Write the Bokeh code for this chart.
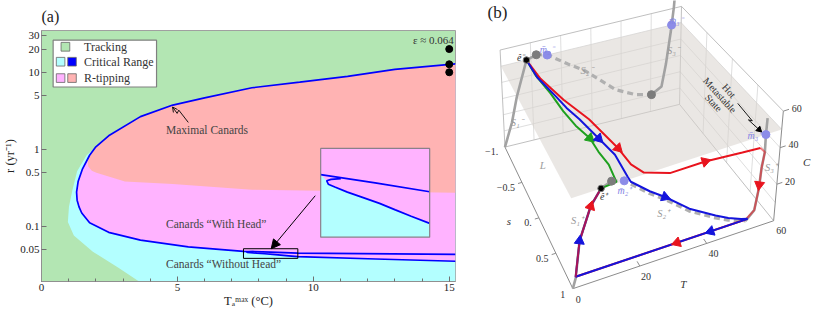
import math
from bokeh.plotting import figure
from bokeh.layouts import row, column
from bokeh.models import (Range1d, FixedTicker, Arrow, NormalHead, OpenHead,
                          LinearScale, CustomJSTickFormatter)
from bokeh.core.properties import value
from bokeh.embed import file_html
from bokeh.resources import INLINE

SERIF = "Liberation Serif"
GREEN_BG = "#b3e6b3"
CYAN = "#b3ffff"
PINK = "#ffb3ff"
SALMON = "#ffb3b3"
BLUE_LINE = "#0000ff"

# ======================= panel (a) data =======================
T_LIMITS = (0.0, 15.23)
R_LIMITS = (0.0194, 34.8)
x_tick_values = [0, 5, 10, 15]
x_minor_values = [0, 1, 2, 3, 4, 5, 6, 7, 8, 9, 10, 11, 12, 13, 14, 15]
y_tick_values = [0.05, 0.1, 0.5, 1, 5, 10, 20, 30]

canard_T = [15.23, 13.0, 11.26, 9.5, 7.74, 6.0, 4.83, 3.64, 2.47, 2.0, 1.77, 1.5, 1.35,
            1.29, 1.31, 1.38, 1.48, 1.77, 2.47, 3.64, 5.4, 7.43, 8.43, 9.43, 15.23]
canard_r = [12.85, 10.9, 8.84, 7.45, 6.3, 4.65, 3.76, 2.66, 1.5, 1.08, 0.84, 0.55, 0.387,
            0.28, 0.22, 0.18, 0.15, 0.112, 0.0841, 0.0668, 0.0546, 0.0478, 0.0466, 0.0453, 0.0437]
head_T = [7.80, 7.62, 7.54, 7.57, 7.69, 7.92, 8.21, 8.51, 8.80, 9.09, 9.43, 12.3, 15.23]
head_r = [0.0472, 0.0471, 0.0469, 0.0464, 0.0460, 0.04525, 0.04445, 0.04361, 0.04267,
          0.04174, 0.0407, 0.0380, 0.0355]
salmon_T = [1.70, 1.72, 1.85, 2.02, 3.07, 4.83, 7.74, 15.23]
salmon_r = [0.75, 0.60, 0.53, 0.50, 0.385, 0.355, 0.30, 0.275]
cyanb_T = [2.47, 1.66, 1.31, 1.13, 1.01, 0.97, 1.19, 1.89, 2.83, 3.59]
cyanb_r = [1.5, 0.84, 0.52, 0.29, 0.18, 0.115, 0.0766, 0.0473, 0.0292, 0.0194]
dots_T = [15, 15, 15]
dots_r = [20, 12.7, 10]
inset_view_T = (7.43, 9.43)
inset_view_r = (0.0387, 0.0516)
inset_box_T = (10.27, 14.28)
inset_box_r = (0.0729, 1.03)
inset_main_T = [7.43, 8.43, 9.43]
inset_main_r = [0.0478, 0.0466, 0.0453]

IDX_UPPER_END = canard_T.index(2.47)
IDX_SALMON = canard_T.index(1.77)
IDX_LOWER_END = canard_T.index(7.43)
IDX_TIP = 2
IDX_HEAD_INSET = head_T.index(9.43)

# ======================= panel (a) figure =======================
p1 = figure(width=470, height=310, x_range=Range1d(*T_LIMITS), y_range=Range1d(*R_LIMITS),
            y_axis_type="log", output_backend="svg", toolbar_location=None,
            min_border_left=8, min_border_right=15, min_border_top=22, min_border_bottom=10,
            title="(a)")
p1.title.text_font = SERIF
p1.title.text_font_size = "16px"
p1.title.text_font_style = "normal"
p1.title.text_color = "#222222"
p1.title.align = "left"
p1.title.offset = 0
p1.title.standoff = 11
p1.background_fill_color = GREEN_BG
p1.grid.grid_line_color = None
p1.outline_line_color = "#a0a0a0"

for ax in (p1.xaxis[0], p1.yaxis[0]):
    ax.axis_line_color = "#909090"
    ax.major_tick_line_color = "#707070"
    ax.minor_tick_line_color = "#707070"
    ax.major_tick_in = 5
    ax.major_tick_out = 0
    ax.minor_tick_in = 3
    ax.minor_tick_out = 0
    ax.major_label_text_font = SERIF
    ax.major_label_text_font_size = "11px"
    ax.major_label_text_color = "#222222"
    ax.axis_label_text_font = SERIF
    ax.axis_label_text_font_size = "12.5px"
    ax.axis_label_text_font_style = "normal"
    ax.axis_label_text_color = "#222222"
p1.xaxis.ticker = FixedTicker(ticks=x_tick_values, minor_ticks=x_minor_values)
p1.yaxis.ticker = FixedTicker(ticks=y_tick_values, minor_ticks=[])
p1.yaxis.formatter = CustomJSTickFormatter(code="return String(tick);")
p1.xaxis.major_label_standoff = 2
p1.xaxis.axis_label_standoff = 0
p1.yaxis.major_label_standoff = 2
p1.yaxis.axis_label_standoff = 0
p1.xaxis.axis_label = "T\u2090\u1d50\u1d43\u02e3 (\u00b0C)"
p1.yaxis.axis_label = "r (yr\u207b\u00b9)"

cyan_x = cyanb_T + [T_LIMITS[1]] + canard_T[:IDX_UPPER_END + 1]
cyan_y = cyanb_r + [R_LIMITS[0]] + canard_r[:IDX_UPPER_END + 1]
p1.patch(cyan_x, cyan_y, fill_color=CYAN, line_color=None)
pink_x = canard_T[:IDX_LOWER_END + 1] + head_T[IDX_TIP:]
pink_y = canard_r[:IDX_LOWER_END + 1] + head_r[IDX_TIP:]
p1.patch(pink_x, pink_y, fill_color=PINK, line_color=None)
sal_x = canard_T[:IDX_SALMON + 1] + salmon_T
sal_y = canard_r[:IDX_SALMON + 1] + salmon_r
p1.patch(sal_x, sal_y, fill_color=SALMON, line_color=None)

p1.line(canard_T, canard_r, line_color=BLUE_LINE, line_width=1.7)
p1.line(head_T, head_r, line_color=BLUE_LINE, line_width=1.7)
p1.scatter(dots_T, dots_r, size=7, color="black")

p1.quad(left=[inset_view_T[0]], right=[inset_view_T[1]], bottom=[inset_view_r[0]],
        top=[inset_view_r[1]], fill_alpha=0, line_color="black", line_width=1)

ly0, ly1 = math.log10(R_LIMITS[0]), math.log10(R_LIMITS[1])
fb = (math.log10(inset_box_r[0]) - ly0) / (ly1 - ly0)
ft = (math.log10(inset_box_r[1]) - ly0) / (ly1 - ly0)
ky = (inset_view_r[1] - inset_view_r[0]) / (ft - fb)
fxl = (inset_box_T[0] - T_LIMITS[0]) / (T_LIMITS[1] - T_LIMITS[0])
fxr = (inset_box_T[1] - T_LIMITS[0]) / (T_LIMITS[1] - T_LIMITS[0])
kx = (inset_view_T[1] - inset_view_T[0]) / (fxr - fxl)
p1.extra_x_ranges = {"inset": Range1d(inset_view_T[0] - fxl * kx, inset_view_T[1] + (1 - fxr) * kx)}
p1.extra_y_ranges = {"inset": Range1d(inset_view_r[0] - fb * ky, inset_view_r[1] + (1 - ft) * ky)}
p1.extra_x_scales = {"inset": LinearScale()}
p1.extra_y_scales = {"inset": LinearScale()}

p1.quad(left=[inset_box_T[0]], right=[inset_box_T[1]], bottom=[inset_box_r[0]],
        top=[inset_box_r[1]], fill_color=PINK, line_color=None)
ic_x = [inset_main_T[0]] + head_T[IDX_TIP:IDX_HEAD_INSET + 1] + [inset_view_T[1], inset_view_T[0]]
ic_y = [inset_main_r[0]] + head_r[IDX_TIP:IDX_HEAD_INSET + 1] + [inset_view_r[0], inset_view_r[0]]
p1.patch(ic_x, ic_y, fill_color=CYAN, line_color=None, x_range_name="inset", y_range_name="inset")
p1.line(inset_main_T, inset_main_r, line_color=BLUE_LINE, line_width=1.7,
        x_range_name="inset", y_range_name="inset")
p1.line(head_T[:IDX_HEAD_INSET + 1], head_r[:IDX_HEAD_INSET + 1], line_color=BLUE_LINE,
        line_width=1.7, x_range_name="inset", y_range_name="inset")
p1.quad(left=[inset_box_T[0]], right=[inset_box_T[1]], bottom=[inset_box_r[0]],
        top=[inset_box_r[1]], fill_alpha=0, line_color="#8a808a", line_width=1.2)

p1.quad(left=[0.428], right=[4.232], bottom=[6.44], top=[26.1], fill_color="white",
        line_color="#808080", line_width=1.2)
sw_left = [0.72, 0.545, 0.966, 0.545, 0.966]
sw_right = [1.04, 0.86, 1.28, 0.86, 1.28]
sw_bot = [18.8, 12.04, 12.04, 7.39, 7.39]
sw_top = [24.4, 15.6, 15.6, 9.57, 9.57]
sw_col = [GREEN_BG, CYAN, BLUE_LINE, PINK, SALMON]
p1.quad(left=sw_left, right=sw_right, bottom=sw_bot, top=sw_top, fill_color=sw_col,
        line_color="#666666", line_width=0.8)
p1.text(x=[1.563, 1.563, 1.563], y=[21.4, 13.7, 8.41],
        text=["Tracking", "Critical Range", "R-tipping"], text_font=value(SERIF),
        text_font_size="12px", text_color="#333333", text_baseline="middle")

p1.text(x=[15.17], y=[26.1], text=["\u03b5 \u2248 0.064"], text_font=value(SERIF),
        text_font_size="11px", text_color="#333333", text_align="right", text_baseline="middle")
p1.text(x=[4.58, 4.58, 4.58], y=[1.78, 0.107, 0.0323],
        text=["Maximal Canards", "Canards \u201cWith Head\u201d", "Canards \u201cWithout Head\u201d"],
        text_font=value(SERIF), text_font_size="11.5px", text_color="#444444",
        text_baseline="middle")
p1.line([5.40, 5.05, 4.99], [2.24, 3.23, 2.93], line_color="black", line_width=0.9)
p1.add_layout(Arrow(end=OpenHead(size=5, line_color="black", line_width=0.9),
                    x_start=4.99, y_start=2.93, x_end=4.82, y_end=3.55,
                    line_color="black", line_width=0.9))
p1.add_layout(Arrow(end=NormalHead(size=9, fill_color="black", line_color="black"),
                    x_start=10.07, y_start=0.251, x_end=8.45, y_end=0.0516,
                    line_color="black", line_width=1))

# ======================= panel (b) data (T, s, C) =======================
S1m_T = [0.0, 2.75, 4.8, 8.5, 11.8]
S1m_C = [0.0, 13.8, 29.0, 50.0, 51.8]
S2m_T = [11.8, 15.4, 22.2, 27.5, 38.1, 44.7, 50.3]
S2m_C = [51.8, 50.2, 41.4, 35.3, 18.6, 12.7, 10.2]
S3m_T = [50.3, 53.7, 55.1, 56.6, 57.5, 57.9]
S3m_C = [10.2, 13.7, 26.8, 46.4, 61.0, 72.0]
S1p_T = [0.0, 0.9, 2.2, 5.5, 8.5, 11.5]
S1p_C = [0.0, 5.3, 25.0, 42.0, 50.0, 52.1]
S2p_T = [11.5, 15.1, 17.0, 22.5, 27.0, 34.3, 42.2, 46.1, 51.4]
S2p_C = [52.1, 50.0, 47.1, 38.3, 32.3, 21.3, 12.6, 9.0, 5.3]
S3p_T = [51.4, 53.8, 54.7, 55.0, 55.6, 55.5, 55.6]
S3p_C = [5.3, 9.7, 21.4, 32.0, 40.4, 50.0, 59.0]

fold_T = [11.8, 50.3, 11.5]
fold_s = [-1, -1, 1]
fold_C = [51.8, 10.2, 52.1]
eq_T = [8.5, 8.5]
eq_s = [-1, 1]
eq_C = [50, 50]
mbar_T = [15.4, 56.8, 15.1, 55.5]
mbar_s = [-1, -1, 1, 1]
mbar_C = [50, 50, 50, 50]
L_LEVEL = 50

green_T = [8.5, 8.6, 9.8, 10.4, 11.4, 13.1, 13.2, 13.8, 13.1, 8.5]
green_s = [-1.0, -0.758, -0.464, -0.178, 0.066, 0.29, 0.506, 0.718, 0.98, 1.0]
green_C = [50, 50, 50, 50, 50, 50, 50, 50, 50, 50]
blue_T = [8.5, 8.7, 10.8, 11.8, 13.4, 15.3, 16.8, 16.5, 17.0, 22.5, 27.0, 34.3, 42.2, 46.1,
          50.0, 52.0, 0.9, 2.2, 5.5, 8.5]
blue_s = [-1.0, -0.73, -0.4, -0.208, -0.006, 0.33, 0.614, 0.97, 1, 1, 1, 1, 1, 1, 1, 1, 1, 1, 1, 1]
blue_C = [50, 50, 50, 50, 50, 50, 50, 50, 48.3, 39.6, 33.6, 22.6, 13.9, 10.2, 7.2, 6.0, 6.0,
          25, 42, 50]
red_T = [8.5, 9.4, 12.3, 15.9, 18.6, 19.2, 21.0, 28.2, 38.3, 49.0, 54.2]
red_s = [-1.0, -0.696, -0.33, 0.03, 0.54, 0.81, 0.975, 1, 1, 1, 1]
red_C = [50, 50, 50, 50, 50, 50, 50, 46, 46, 44.3, 43.5]
redS3_T = [54.2, 55.6, 55.0, 54.7, 53.8, 51.4]
redS3_C = [43.5, 40.4, 32.0, 21.4, 9.7, 6.0]
redret_T = [51.4, 0.9]
redret_C = [6.0, 6.0]
redS1_T = [0.9, 2.2, 5.5, 8.5]
redS1_C = [6.0, 25.0, 42.0, 50.0]

arrow_tip_T = [13.1, 15.3, 18.6, 38.3, 54.7, 27.0, 41.0, 31.0, 2.2, 5.5]
arrow_tip_s = [0.29, 0.33, 0.54, 1, 1, 1, 1, 1, 1, 1]
arrow_tip_C = [50, 50, 50, 46, 23, 33.6, 6, 6, 25, 42]
arrow_from_T = [11.4, 13.4, 15.9, 28.2, 55.0, 22.5, 46.0, 36.0, 0.9, 2.2]
arrow_from_s = [0.066, -0.006, 0.03, 1, 1, 1, 1, 1, 1, 1]
arrow_from_C = [50, 50, 50, 46, 32, 39.6, 6, 6, 6, 25]
RED, BLUE, GREEN = "#e8141e", "#1414dc", "#1ea01e"
arrow_col = [GREEN, BLUE, RED, RED, RED, BLUE, BLUE, RED, BLUE, RED]

T_axis_ticks = [0, 20, 40, 60]
s_axis_ticks = [-1, -0.5, 0, 0.5, 1]
s_axis_labels = ["\u22121.", "\u22120.5", "0.", "0.5", "1"]
C_axis_ticks = [20, 40, 60]

BOX = {(0, 0, 0): (510, 152), (1, 0, 0): (690, 108), (0, 1, 0): (580, 298), (1, 1, 0): (787, 228),
       (0, 0, 1): (505, 52), (1, 0, 1): (692, 7), (0, 1, 1): (578, 186), (1, 1, 1): (797, 115)}


def to_fig(X, Y):
    return 0.97 * X - 460.25, 310.9 - 0.97 * Y


def proj(T, s, C):
    u, w, v = T / 60.0, (s + 1) / 2.0, C / 60.0
    X = Y = 0.0
    for (i, j, k), (px, py) in BOX.items():
        wt = (u if i else 1 - u) * (w if j else 1 - w) * (v if k else 1 - v)
        X += wt * px
        Y += wt * py
    return to_fig(X, Y)


def proj_many(Ts, ss, Cs):
    pts = [proj(t, s, c) for t, s, c in zip(Ts, ss, Cs)]
    return [p[0] for p in pts], [p[1] for p in pts]


p2 = figure(width=344, height=310, x_range=Range1d(0, 344), y_range=Range1d(0, 310),
            output_backend="svg", toolbar_location=None, min_border=0)
p2.axis.visible = False
p2.grid.grid_line_color = None
p2.outline_line_color = None

gx, gy = [], []
for t in [10, 20, 30, 40, 50]:
    a, b = proj(t, -1, 0), proj(t, -1, 60)
    gx.append([a[0], b[0]]); gy.append([a[1], b[1]])
for c in [10, 20, 30, 40, 50]:
    a, b = proj(0, -1, c), proj(60, -1, c)
    gx.append([a[0], b[0]]); gy.append([a[1], b[1]])
    a, b = proj(60, -1, c), proj(60, 1, c)
    gx.append([a[0], b[0]]); gy.append([a[1], b[1]])
for sv in [-0.5, 0, 0.5]:
    a, b = proj(60, sv, 0), proj(60, sv, 60)
    gx.append([a[0], b[0]]); gy.append([a[1], b[1]])
p2.multi_line(gx, gy, line_color="#d6d6d6", line_width=0.8)

edges = [((0, -1, 0), (0, -1, 60)), ((0, -1, 60), (60, -1, 60)), ((60, -1, 0), (60, -1, 60)),
         ((60, -1, 60), (60, 1, 60)), ((0, -1, 0), (60, -1, 0)), ((60, -1, 0), (60, 1, 0))]
ex, ey = [], []
for a3, b3 in edges:
    a, b = proj(*a3), proj(*b3)
    ex.append([a[0], b[0]]); ey.append([a[1], b[1]])
p2.multi_line(ex, ey, line_color="#b8b8b8", line_width=0.9)
axes3 = [((0, -1, 0), (0, 1, 0)), ((0, 1, 0), (60, 1, 0)), ((60, 1, 0), (60, 1, 60))]
ax_x, ax_y = [], []
for a3, b3 in axes3:
    a, b = proj(*a3), proj(*b3)
    ax_x.append([a[0], b[0]]); ax_y.append([a[1], b[1]])
p2.multi_line(ax_x, ax_y, line_color="#8c8c8c", line_width=1)

Lx, Ly = proj_many([0, 60, 60, 0], [-1, -1, 1, 1], [L_LEVEL] * 4)
p2.patch(Lx, Ly, fill_color="#d8d4ce", fill_alpha=0.55, line_color=None)

tx, ty = [], []
for t in T_axis_ticks[1:3]:
    a, b = proj(t, 1, 0), proj(t, 0.93, 0)
    tx.append([a[0], b[0]]); ty.append([a[1], b[1]])
for sv in s_axis_ticks[1:4]:
    a, b = proj(0, sv, 0), proj(-1.3, sv, 0)
    tx.append([a[0], b[0]]); ty.append([a[1], b[1]])
for c in C_axis_ticks:
    a, b = proj(60, 1, c), proj(61.6, 1, c)
    tx.append([a[0], b[0]]); ty.append([a[1], b[1]])
p2.multi_line(tx, ty, line_color="#8c8c8c", line_width=1)

GREY = "#a2a2a2"
for Ts, Cs, sv in [(S1m_T, S1m_C, -1), (S3m_T, S3m_C, -1), (S1p_T, S1p_C, 1), (S3p_T, S3p_C, 1)]:
    xs, ys = proj_many(Ts, [sv] * len(Ts), Cs)
    p2.line(xs, ys, line_color=GREY, line_width=2.6)
for Ts, Cs, sv in [(S2m_T, S2m_C, -1), (S2p_T, S2p_C, 1)]:
    xs, ys = proj_many(Ts, [sv] * len(Ts), Cs)
    p2.line(xs, ys, line_color="#b0b0b0", line_width=3.2, line_dash="6 4")

xs, ys = proj_many(green_T, green_s, green_C)
p2.line(xs, ys, line_color=GREEN, line_width=2)
xs, ys = proj_many(red_T, red_s, red_C)
p2.line(xs, ys, line_color=RED, line_width=2)
xs, ys = proj_many(redS3_T, [1] * len(redS3_T), redS3_C)
p2.line(xs, ys, line_color=RED, line_width=2, line_alpha=0.55)
xs, ys = proj_many(redret_T, [1, 1], redret_C)
p2.line(xs, ys, line_color=RED, line_width=2)
xs, ys = proj_many(blue_T, blue_s, blue_C)
p2.line(xs, ys, line_color=BLUE, line_width=2)
xs, ys = proj_many(redS1_T, [1] * len(redS1_T), redS1_C)
p2.line(xs, ys, line_color=RED, line_width=2, line_alpha=0.7)

ahx, ahy, aha = [], [], []
for i in range(len(arrow_tip_T)):
    x1, y1 = proj(arrow_tip_T[i], arrow_tip_s[i], arrow_tip_C[i])
    x0, y0 = proj(arrow_from_T[i], arrow_from_s[i], arrow_from_C[i])
    ahx.append(x1); ahy.append(y1)
    aha.append(math.atan2(y1 - y0, x1 - x0) - math.pi / 2)
p2.scatter(ahx, ahy, marker="triangle", size=10, angle=aha, fill_color=arrow_col,
           line_color=arrow_col)

xs, ys = proj_many(fold_T, fold_s, fold_C)
p2.scatter(xs, ys, size=8, color="#7c7c7c")
xs, ys = proj_many(mbar_T, mbar_s, mbar_C)
p2.scatter(xs, ys, size=8, color="#8c8ce8")
xs, ys = proj_many(eq_T, eq_s, eq_C)
p2.scatter(xs, ys, size=6.5, fill_color="black", line_color="#777777", line_width=1)

tl = [proj(t, 1.16, 0) for t in T_axis_ticks]
p2.text([p[0] for p in tl], [p[1] for p in tl], text=[str(t) for t in T_axis_ticks],
        text_font=value(SERIF), text_font_size="10px", text_color="#333333",
        text_align="center", text_baseline="middle")
sl = [proj(-2.3, sv, 0) for sv in s_axis_ticks]
p2.text([p[0] for p in sl], [p[1] - 3 for p in sl], text=s_axis_labels,
        text_font=value(SERIF), text_font_size="10px", text_color="#333333",
        text_align="right", text_baseline="middle")
cl = [proj(62.4, 1, c) for c in C_axis_ticks]
p2.text([p[0] for p in cl], [p[1] for p in cl], text=[str(c) for c in C_axis_ticks],
        text_font=value(SERIF), text_font_size="10px", text_color="#333333",
        text_align="left", text_baseline="middle")


def ref_text(items, color, size, style="normal", align="left"):
    pts = [to_fig(X, Y) for X, Y, _ in items]
    p2.text([p[0] for p in pts], [p[1] for p in pts], text=[t for _, _, t in items],
            text_font=value(SERIF), text_font_size=size, text_font_style=style,
            text_color=color, text_align=align, text_baseline="middle")


ref_text([(492, 13, "(b)")], "#222222", "17px")
ref_text([(516, 127, "S\u2081\u207b"), (588, 73, "S\u2082\u207b"), (677, 52, "S\u2083\u207b"),
          (578, 228, "S\u2081\u207a"), (667, 221, "S\u2082\u207a"), (778, 173, "S\u2083\u207a")],
         "#9a9a9a", "10.5px", "italic")
ref_text([(546, 51, "m\u0304\u2082\u207b"), (679, 22, "m\u0304\u2083\u207b"),
          (626, 197, "m\u0304\u2082\u207a"), (760, 140, "m\u0304\u2083\u207a")],
         "#8484e4", "10px", "italic")
ref_text([(530, 60, "\u00ea\u207b")], "#333333", "10px", "italic", "right")
ref_text([(608, 203, "\u00ea\u207a")], "#333333", "10px", "italic")
ref_text([(549, 171, "L")], "#a0a0a0", "11px", "italic", "center")
ref_text([(514, 228, "s"), (694, 293, "T"), (821, 167, "C")], "#333333", "11px", "italic", "center")

hx, hy = [], []
for X, Y in [(741, 94), (731.5, 98.5), (725, 106.5)]:
    fx, fy = to_fig(X, Y)
    hx.append(fx); hy.append(fy)
p2.text(hx, hy, text=["Hot", "Metastable", "State"], text_font=value(SERIF),
        text_font_size="10px", text_color="#333333", text_align="center",
        text_baseline="middle", angle=-0.83)
zz = [to_fig(X, Y) for X, Y in [(750, 107), (765, 125), (761, 124), (772, 134)]]
p2.line([p[0] for p in zz], [p[1] for p in zz], line_color="black", line_width=0.9)
ang = math.atan2(zz[3][1] - zz[2][1], zz[3][0] - zz[2][0]) - math.pi / 2
p2.scatter([zz[3][0]], [zz[3][1]], marker="triangle", size=6, angle=ang, color="black")

layout = row(column(p1), column(p2))
open("out.html", "w").write(file_html(layout, INLINE))
